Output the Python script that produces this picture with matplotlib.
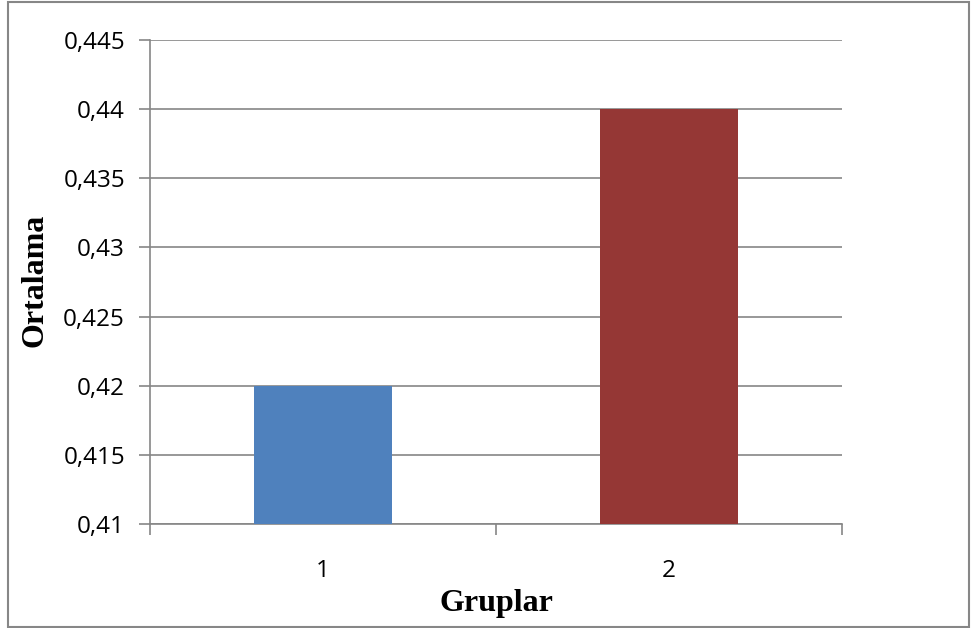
import matplotlib
matplotlib.use("Agg")
import matplotlib.pyplot as plt
from matplotlib.patches import Rectangle
from matplotlib.ticker import FixedLocator, NullFormatter

categories = ["1", "2"]
values = [0.42, 0.44]
colors = ["#4F81BD", "#953735"]
yticks = [0.41, 0.415, 0.42, 0.425, 0.43, 0.435, 0.44, 0.445]
ytick_labels = ["0,41", "0,415", "0,42", "0,425", "0,43", "0,435", "0,44", "0,445"]
xlabel = "Gruplar"
ylabel = "Ortalama"

W, H = 973, 628
fig = plt.figure(figsize=(W / 100, H / 100), dpi=100)
ax = fig.add_axes([150 / W, 1 - 524 / H, (842 - 150) / W, (524 - 40) / H])

grid_color = "#868686"
x = list(range(len(categories)))
ax.bar(x, values, width=0.4, color=colors, zorder=3)

ax.set_xlim(-0.5, len(categories) - 0.5)
ax.set_ylim(yticks[0], yticks[-1])
ax.set_yticks(yticks)
ax.set_yticklabels(ytick_labels)
ax.yaxis.grid(True, color=grid_color, linewidth=1.2, zorder=0)
ax.set_axisbelow(True)

# category labels at centers, tick marks at boundaries
ax.set_xticks(x)
ax.set_xticklabels(categories)
ax.tick_params(axis="x", which="major", length=0, pad=25)
ax.xaxis.set_minor_locator(FixedLocator([i - 0.5 for i in range(len(categories) + 1)]))
ax.xaxis.set_minor_formatter(NullFormatter())
ax.tick_params(axis="x", which="minor", length=8, width=1.2, color=grid_color, direction="out")
ax.tick_params(axis="y", length=8, width=1.2, color=grid_color, direction="out", pad=10)

for lab in ax.get_xticklabels() + ax.get_yticklabels():
    lab.set_fontfamily("Open Sans")
    lab.set_fontsize(17.5)
    lab.set_color("black")

for s in ["top", "right"]:
    ax.spines[s].set_visible(False)
for s in ["left", "bottom"]:
    ax.spines[s].set_color(grid_color)
    ax.spines[s].set_linewidth(1.2)

fig.text(496 / W, 1 - 604 / H, xlabel, ha="center", va="center",
         fontfamily="Liberation Serif", fontweight="bold", fontsize=23)
fig.text(35 / W, 1 - 280 / H, ylabel, ha="center", va="center", rotation=90,
         fontfamily="Liberation Serif", fontweight="bold", fontsize=23)

fig.patches.append(Rectangle((7.5 / W, 1.5 / H), (969 - 7.5) / W, (626.5 - 1.5) / H,
                             transform=fig.transFigure, fill=False,
                             edgecolor="#878787", linewidth=1.5))

fig.savefig("out.png", dpi=100)
